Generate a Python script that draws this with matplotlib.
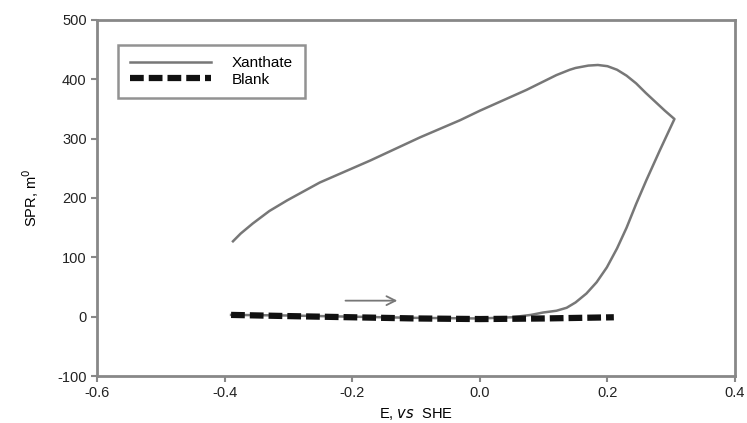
import matplotlib
matplotlib.use('Agg')
import matplotlib.pyplot as plt
import numpy as np

plt.rcParams['font.family'] = ['Liberation Sans', 'DejaVu Sans']
plt.rcParams['axes.unicode_minus'] = False

# Xanthate trace: forward sweep along baseline, up to the turning point, then back
xan_e = [-0.39, -0.30, -0.20, -0.10, 0.00, 0.05, 0.08, 0.099, 0.12, 0.136, 0.15,
         0.167, 0.183, 0.199, 0.215, 0.230, 0.245, 0.261, 0.282, 0.295, 0.305,
         0.29, 0.275, 0.26, 0.245, 0.23, 0.215, 0.20, 0.185, 0.17, 0.15, 0.141,
         0.12, 0.073, 0.00, -0.031, -0.094, -0.172, -0.251, -0.302, -0.33,
         -0.356, -0.375, -0.387]
xan_spr = [3, 2, 0, -2, -3, -1, 3, 7, 10, 15, 24,
           39, 58, 83, 115, 150, 190, 230, 280, 310, 333,
           347, 362, 377, 393, 406, 416, 422, 424, 423, 419, 416,
           407, 382, 347, 331, 302, 263, 226, 196, 178,
           157, 140, 127]

# Blank trace
blank_e = [-0.39, -0.30, -0.20, -0.10, 0.00, 0.10, 0.21]
blank_spr = [3, 1, -1, -3, -4, -3, -1]

xticks = [-0.6, -0.4, -0.2, 0.0, 0.2, 0.4]
yticks = [-100, 0, 100, 200, 300, 400, 500]

fig = plt.figure(figsize=(7.47, 4.23), dpi=100)
ax = fig.add_axes([0.130, 0.111, 0.854, 0.842])

ax.plot(xan_e, xan_spr, color='#777777', lw=1.8, label='Xanthate', zorder=2)
ax.plot(blank_e, blank_spr, color='#111111', lw=4.5, dashes=(2.2, 0.8),
        label='Blank', zorder=3)

ax.annotate('', xy=(-0.125, 27), xytext=(-0.215, 27),
            arrowprops=dict(arrowstyle='->', color='#777777', lw=1.3,
                            mutation_scale=16))

ax.set_xlim(-0.6, 0.4)
ax.set_ylim(-100, 500)
ax.set_xticks(xticks)
ax.set_xticklabels(['-0.6', '-0.4', '-0.2', '0.0', '0.2', '0.4'])
ax.set_yticks(yticks)
ax.tick_params(labelsize=10.5, colors='#222222', color='#888888',
               length=4, width=1.5)
for lbl in ax.get_xticklabels() + ax.get_yticklabels():
    lbl.set_color('#222222')

for s in ax.spines.values():
    s.set_color('#888888')
    s.set_linewidth(2)

ax.set_xlabel('E, $\\it{vs}$  SHE', fontsize=10.5, labelpad=4)
ax.set_ylabel('SPR, m$^0$', fontsize=10.5, labelpad=12)

leg = ax.legend(loc='upper left', bbox_to_anchor=(0.033, 0.93), fontsize=11,
                frameon=True, fancybox=False, handlelength=5.3,
                borderpad=0.75, labelspacing=0.15, handletextpad=1.4,
                borderaxespad=0.0)
leg.get_frame().set_edgecolor('#777777')
leg.get_frame().set_linewidth(1.8)

fig.savefig('out.png', dpi=100)
